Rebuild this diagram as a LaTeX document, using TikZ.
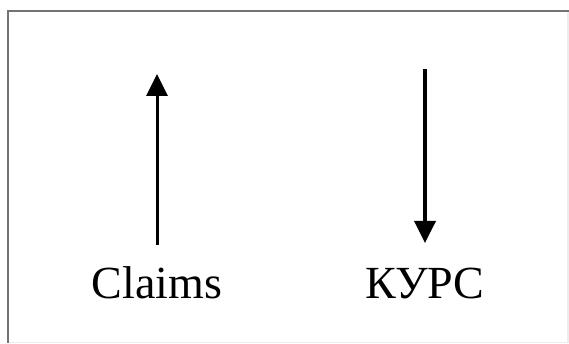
\documentclass[tikz,border=0pt]{standalone}
\usepackage{fontspec}
\setmainfont{Liberation Serif}
\usetikzlibrary{arrows.meta}
\begin{document}
\begin{tikzpicture}[x=1pt,y=-1pt,
  lbl/.style={font=\fontsize{46}{50}\selectfont, inner sep=0pt, anchor=base},
  arr/.style={line width=3pt, -{Triangle[width=21pt,length=22pt]}}]
\useasboundingbox (0,0) rectangle (569,344);
\fill[white] (0,0) rectangle (569,344);
% frame
\draw[line width=2.2pt, black!55] (8,343) -- (8,11) -- (569,11);
\draw[line width=1.2pt, black!7] (9,342.5) -- (568,342.5) -- (568,12);
% labels
\node[lbl] (claims) at (157,298) {Claims};
\node[lbl] (kurs) at (425,298) {КУРС};
% arrows
\coordinate (c0) at (157,245);
\coordinate (c1) at (157,74);
\coordinate (k0) at (425,69);
\coordinate (k1) at (425,243);
\draw[arr] (c0) -- (c1);
\draw[arr, line width=3.6pt] (k0) -- (k1);
\end{tikzpicture}
\end{document}
